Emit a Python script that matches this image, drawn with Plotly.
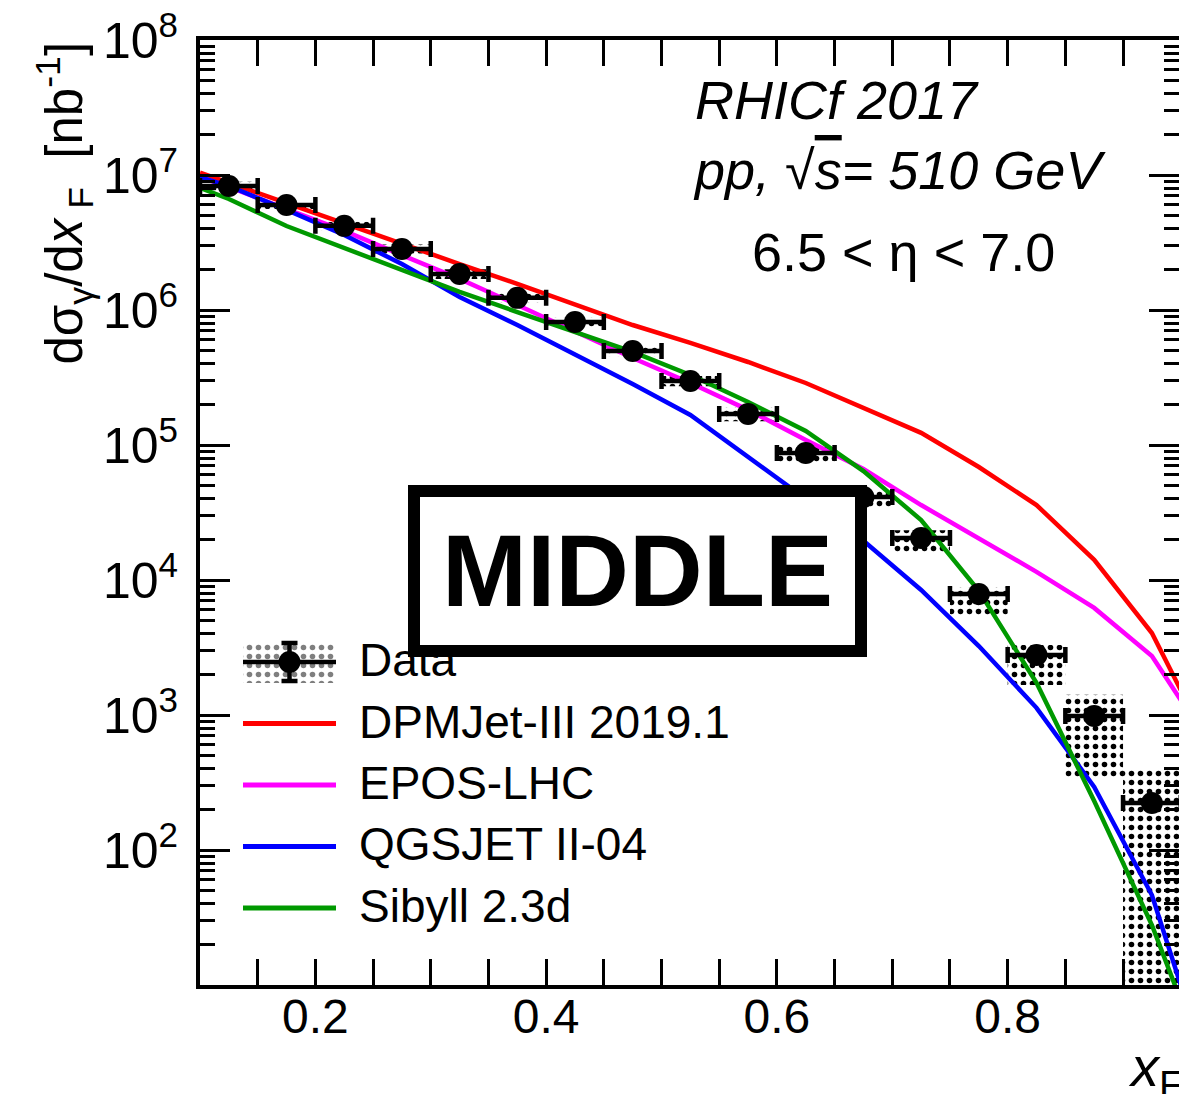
import plotly.graph_objects as go

# ---------------------------------------------------------------- data
# Feynman-x bin centres (bin width 0.05)
xf_centres = [0.125, 0.175, 0.225, 0.275, 0.325, 0.375, 0.425, 0.475, 0.525,
              0.575, 0.625, 0.675, 0.725, 0.775, 0.825, 0.875, 0.925]
xf_half_width = [0.025] * len(xf_centres)

# measured d(sigma)/dxF [nb^-1]
data_y = [8.3e6, 6.0e6, 4.2e6, 2.83e6, 1.85e6, 1.23e6, 8.15e5, 4.97e5, 2.98e5,
          1.70e5, 8.73e4, 4.12e4, 2.05e4, 7.87e3, 2.78e3, 984, 223]
# systematic band (upper / lower edge)
sys_hi = [8.9e6, 6.4e6, 4.5e6, 3.05e6, 2.0e6, 1.33e6, 8.8e5, 5.4e5, 3.25e5,
          1.90e5, 9.9e4, 4.64e4, 2.34e4, 8.87e3, 3.30e3, 1.41e3, 392]
sys_lo = [7.7e6, 5.6e6, 3.9e6, 2.62e6, 1.7e6, 1.13e6, 7.5e5, 4.55e5, 2.72e5,
          1.50e5, 7.4e4, 3.41e4, 1.61e4, 5.41e3, 1.67e3, 347, 1]

# model predictions
model_x = [0.1, 0.125, 0.175, 0.225, 0.275, 0.325, 0.375, 0.425, 0.475, 0.525,
           0.575, 0.625, 0.675, 0.725, 0.775, 0.825, 0.875, 0.925, 0.95]
dpmjet = [1.04e7, 8.73e6, 6.21e6, 4.41e6, 3.08e6, 2.19e6, 1.56e6, 1.09e6, 7.74e5,
          5.70e5, 4.12e5, 2.88e5, 1.88e5, 1.23e5, 6.87e4, 3.59e4, 1.41e4, 4.05e3, 1.53e3]
epos = [9.66e6, 8.15e6, 5.60e6, 3.85e6, 2.55e6, 1.70e6, 1.09e6, 6.87e5, 4.41e5,
        2.88e5, 1.82e5, 1.09e5, 6.64e4, 3.59e4, 2.05e4, 1.15e4, 6.21e3, 2.74e3, 1.29e3]
qgsjet = [9.66e6, 8.29e6, 5.51e6, 3.59e6, 2.19e6, 1.25e6, 7.74e5, 4.72e5, 2.83e5,
          1.67e5, 8.15e4, 3.98e4, 1.95e4, 8.43e3, 3.24e3, 1.13e3, 293, 46.4, 10]
sibyll = [8.02e6, 6.64e6, 4.19e6, 2.88e6, 2.01e6, 1.36e6, 9.66e5, 6.87e5, 4.89e5,
          3.30e5, 2.08e5, 1.27e5, 6.41e4, 2.78e4, 8.30e3, 1.73e3, 231, 27.8, 7.7]

model_names = ["DPMJet-III 2019.1", "EPOS-LHC", "QGSJET II-04", "Sibyll 2.3d"]
model_colors = ["#ff0000", "#ff00ff", "#0000ff", "#009900"]
model_values = [dpmjet, epos, qgsjet, sibyll]

x_major_ticks = [0.2, 0.4, 0.6, 0.8]
x_tick_text = ["0.2", "0.4", "0.6", "0.8"]
y_major_ticks = [1e1, 1e2, 1e3, 1e4, 1e5, 1e6, 1e7, 1e8]
y_tick_text = [""] + ["10<sup>%d</sup>" % k for k in range(2, 9)]

# ---------------------------------------------------------------- layout
W, H = 1179, 1094
PLOT_L, PLOT_R, PLOT_T, PLOT_B = 200, 1179, 40, 985
PLOT_W, PLOT_H = PLOT_R - PLOT_L, PLOT_B - PLOT_T
FONT = "Liberation Sans, Arial, Helvetica, sans-serif"
DOTS = dict(shape=".", fgcolor="black", bgcolor="rgba(0,0,0,0)", size=9, solidity=0.3)


def px_x(p):
    return (p - PLOT_L) / PLOT_W


def px_y(p):
    return (PLOT_B - p) / PLOT_H


y_minor = [m * 10 ** k for k in range(1, 8) for m in range(2, 10)]

fig = go.Figure()

# systematic uncertainty boxes (dotted hatch)
fig.add_trace(go.Bar(
    x=xf_centres,
    y=[h - l for h, l in zip(sys_hi, sys_lo)],
    base=sys_lo,
    width=[2 * w for w in xf_half_width],
    marker=dict(color="rgba(0,0,0,0)", line=dict(width=0),
                pattern=dict(DOTS, fillmode="replace")),
    showlegend=False, hoverinfo="skip",
))

# model curves
for name, col, vals in zip(model_names, model_colors, model_values):
    fig.add_trace(go.Scatter(x=model_x, y=vals, mode="lines", name=name,
                             line=dict(color=col, width=4.5), showlegend=False))

# data points with bin-width bars
fig.add_trace(go.Scatter(
    x=xf_centres, y=data_y, mode="markers", name="Data",
    marker=dict(color="black", size=22),
    error_x=dict(type="data", array=xf_half_width, color="black", thickness=4.5, width=8),
    showlegend=False,
))

# keep right-hand mirror axis alive
fig.add_trace(go.Scatter(x=[None], y=[None], xaxis="x", yaxis="y3",
                         showlegend=False, hoverinfo="skip"))

# ---------------------------------------------------------------- legend (drawn in pixel space)
LEG_X0, LEG_X1 = 243, 336
LEG_TEXT_X = 357
LEG_ROW0, LEG_DY = 662, 61.5
rows = [LEG_ROW0 + i * LEG_DY for i in range(5)]

# Data entry: dotted box + cross + marker
fig.add_trace(go.Scatter(
    x=[LEG_X0, LEG_X1, LEG_X1, LEG_X0, LEG_X0],
    y=[rows[0] - 20, rows[0] - 20, rows[0] + 21, rows[0] + 21, rows[0] - 20],
    mode="lines", fill="toself", line=dict(width=0, color="rgba(0,0,0,0)"),
    fillcolor="rgba(0,0,0,0)", fillpattern=DOTS,
    xaxis="x2", yaxis="y2", showlegend=False, hoverinfo="skip"))
fig.add_trace(go.Scatter(
    x=[LEG_X0, LEG_X1], y=[rows[0], rows[0]], mode="lines",
    line=dict(color="black", width=4.5), xaxis="x2", yaxis="y2",
    showlegend=False, hoverinfo="skip"))
fig.add_trace(go.Scatter(
    x=[(LEG_X0 + LEG_X1) / 2], y=[rows[0]], mode="markers",
    marker=dict(color="black", size=22),
    error_y=dict(type="constant", value=19, color="black", thickness=4.5, width=8),
    xaxis="x2", yaxis="y2", showlegend=False, hoverinfo="skip"))

for i, col in enumerate(model_colors):
    ry = rows[i + 1]
    fig.add_trace(go.Scatter(
        x=[LEG_X0, LEG_X1], y=[ry, ry], mode="lines",
        line=dict(color=col, width=5), xaxis="x2", yaxis="y2",
        showlegend=False, hoverinfo="skip"))

annotations = []
for label, ry in zip(["Data"] + model_names, rows):
    annotations.append(dict(
        x=px_x(LEG_TEXT_X), y=px_y(ry - 2), xref="paper", yref="paper",
        xanchor="left", yanchor="middle", showarrow=False, text=label,
        font=dict(family=FONT, size=46, color="black")))

# header text
annotations += [
    dict(x=px_x(693), y=px_y(100), xref="paper", yref="paper", xanchor="left",
         yanchor="middle", showarrow=False, text="<i>RHICf 2017</i>",
         font=dict(family=FONT, size=54, color="black")),
    dict(x=px_x(691), y=px_y(170), xref="paper", yref="paper", xanchor="left",
         yanchor="middle", showarrow=False,
         text="<i>pp, √<span style=\"text-decoration:overline\">s</span>= 510 GeV</i>",
         font=dict(family=FONT, size=54, color="black")),
    dict(x=px_x(750), y=px_y(252), xref="paper", yref="paper", xanchor="left",
         yanchor="middle", showarrow=False, text="6.5 < η < 7.0",
         font=dict(family=FONT, size=54, color="black")),
]

# axis titles
annotations += [
    dict(x=px_x(64), y=1.0, xref="paper", yref="paper", xanchor="center",
         yanchor="top", textangle=-90, showarrow=False,
         text="dσ<sub>γ</sub>/d<i>x</i><sub> F</sub>  [nb<sup>-1</sup>]",
         font=dict(family=FONT, size=51, color="black")),
    dict(x=px_x(1126), y=px_y(1070), xref="paper", yref="paper", xanchor="left",
         yanchor="middle", showarrow=False, text="<i>x</i><sub>F</sub>",
         font=dict(family=FONT, size=56, color="black")),
]

# boxed region label
annotations.append(dict(
    x=px_x(637.5), y=px_y(571), xref="paper", yref="paper",
    xanchor="center", yanchor="middle", showarrow=False,
    text="<b>MIDDLE</b>", font=dict(family=FONT, size=102, color="black"),
    bgcolor="white", bordercolor="black", borderwidth=12, borderpad=0,
    width=435, height=148))

axis_common = dict(showgrid=False, zeroline=False, ticks="inside",
                   tickcolor="black", tickwidth=3)

fig.update_layout(
    width=W, height=H,
    margin=dict(l=PLOT_L, r=W - PLOT_R, t=PLOT_T, b=H - PLOT_B),
    paper_bgcolor="white", plot_bgcolor="white",
    barmode="overlay", showlegend=False,
    font=dict(family=FONT, color="black"),
    xaxis=dict(
        range=[0.1, 0.9485], **axis_common,
        showline=True, linecolor="black", linewidth=4, mirror="allticks",
        tickvals=x_major_ticks, ticktext=x_tick_text, ticklen=26,
        tickfont=dict(family=FONT, size=48, color="black"),
        ticklabelstandoff=-14,
        minor=dict(tickmode="array",
                   tickvals=[0.15, 0.25, 0.3, 0.35, 0.45, 0.5, 0.55, 0.65, 0.7,
                             0.75, 0.85, 0.9],
                   ticks="inside", ticklen=13, tickwidth=3, tickcolor="black"),
    ),
    yaxis=dict(
        type="log", range=[1, 8], **axis_common,
        showline=True, linecolor="black", linewidth=4, mirror=False,
        tickvals=y_major_ticks, ticktext=y_tick_text, ticklen=30,
        tickfont=dict(family=FONT, size=50, color="black"),
        ticklabelstandoff=8,
        minor=dict(tickmode="array", tickvals=y_minor, ticks="inside",
                   ticklen=15, tickwidth=3, tickcolor="black"),
    ),
    yaxis3=dict(
        type="log", range=[1, 8], overlaying="y", side="right", anchor="x",
        **axis_common, showline=False, showticklabels=False,
        tickvals=y_major_ticks, ticklen=30,
        minor=dict(tickmode="array", tickvals=y_minor, ticks="inside",
                   ticklen=15, tickwidth=3, tickcolor="black"),
    ),
    xaxis2=dict(range=[PLOT_L, PLOT_R], overlaying="x", anchor="y2", visible=False),
    yaxis2=dict(range=[PLOT_B, PLOT_T], overlaying="y", anchor="x2", visible=False),
    annotations=annotations,
)

fig.write_html("out.html")
